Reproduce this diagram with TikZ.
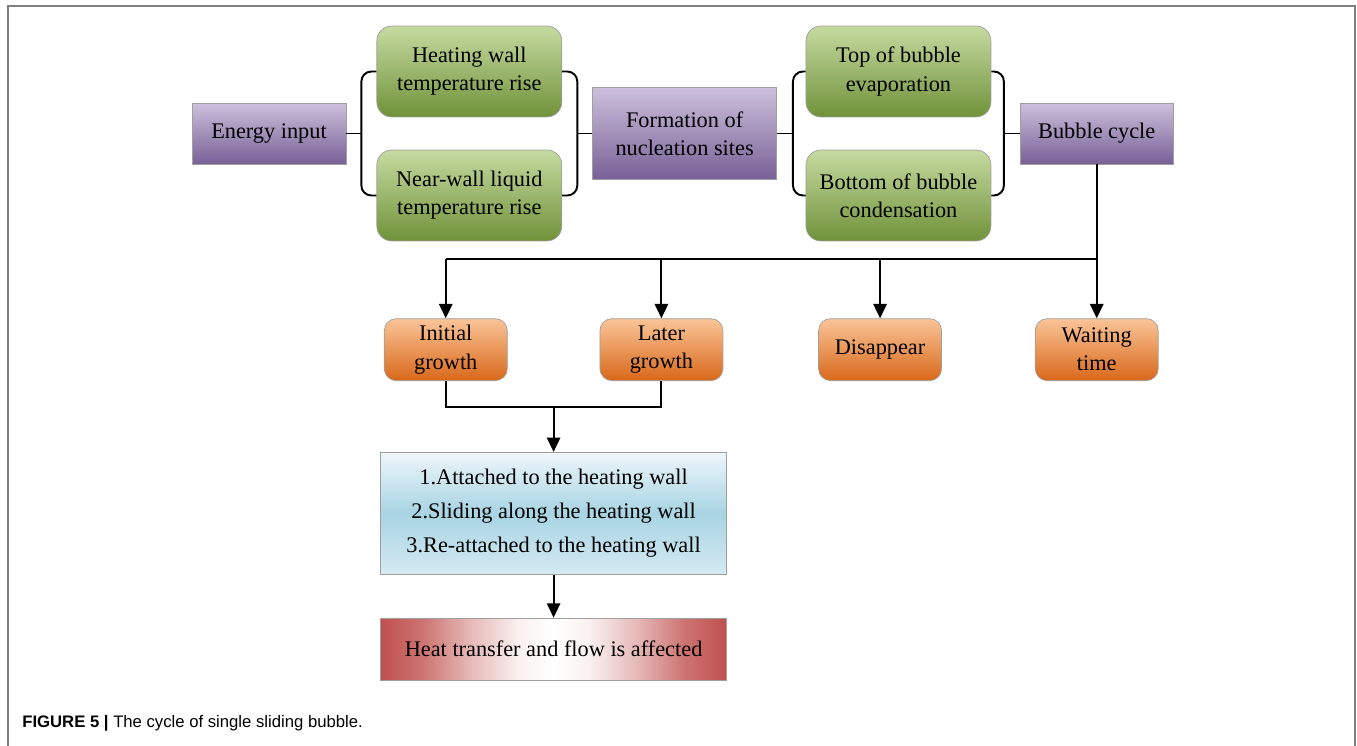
\documentclass[tikz,border=0pt]{standalone}
\usepackage{fontspec}
\setmainfont{Liberation Serif}
\newfontfamily\capfont{Liberation Sans}
\usetikzlibrary{arrows.meta,positioning,calc}

\definecolor{purpletop}{RGB}{205,192,220}
\definecolor{purplebot}{RGB}{120,96,150}
\definecolor{greentop}{RGB}{198,218,160}
\definecolor{greenbot}{RGB}{112,146,58}
\definecolor{orangetop}{RGB}{250,196,152}
\definecolor{orangebot}{RGB}{216,104,26}
\definecolor{bluetop}{RGB}{238,246,250}
\definecolor{bluemid}{RGB}{168,212,227}
\definecolor{bluebot}{RGB}{212,234,242}
\definecolor{rededge}{RGB}{192,80,77}
\pgfdeclarehorizontalshading{redglow}{100bp}{color(0bp)=(rededge); color(25bp)=(rededge); color(31bp)=(rededge!80!white); color(38bp)=(rededge!40!white); color(45bp)=(rededge!8!white); color(50bp)=(white); color(55bp)=(rededge!8!white); color(62bp)=(rededge!40!white); color(69bp)=(rededge!80!white); color(75bp)=(rededge); color(100bp)=(rededge)}

\begin{document}
\begin{tikzpicture}[
    x=0.02cm, y=0.02cm,
    font=\fontsize{12.7}{16}\selectfont,
    base/.style={rectangle, draw=gray!75, thin, align=center, inner sep=2pt},
    pbox/.style={base, top color=purpletop, bottom color=purplebot, minimum height=1.22cm},
    gbox/.style={base, rounded corners=0.3cm, top color=greentop, bottom color=greenbot, minimum width=3.7cm, minimum height=1.82cm},
    obox/.style={base, rounded corners=0.24cm, top color=orangetop, bottom color=orangebot, minimum width=2.46cm, minimum height=1.24cm},
    bbox/.style={base, top color=bluetop, bottom color=bluebot, middle color=bluemid, minimum width=6.92cm, minimum height=2.44cm, font=\fontsize{12.7}{19.3}\selectfont},
    rbox/.style={base, shading=redglow, minimum width=6.92cm, minimum height=1.24cm},
    line/.style={line width=1.1pt},
    arr/.style={line, -{Triangle[width=7.6pt,length=8.2pt]}},
    brace/.style={line, rounded corners=0.2cm},
    frame/.style={draw=gray, line width=1.2pt}
]
    \useasboundingbox (0,0) rectangle (1357,-746);
    \draw [frame] (8,-746) -- (8,-6) -- (1355,-6) -- (1355,-746);

    % top row
    \node [pbox, minimum width=3.08cm] (energy) at (269,-133.5) {Energy input};
    \node [pbox, minimum width=3.68cm, minimum height=1.84cm, right=4.92cm of energy] (formation) {Formation of\\nucleation sites};
    \node [pbox, minimum width=3.06cm, right=4.86cm of formation] (bubble) {Bubble cycle};

    \coordinate (lb1) at ($(energy.east)+(15,0)$);
    \coordinate (rb1) at ($(formation.west)+(-15,0)$);
    \coordinate (lb2) at ($(formation.east)+(16,0)$);
    \coordinate (rb2) at ($(bubble.west)+(-16,0)$);

    \node [gbox] (heat) at ($(lb1)!.5!(rb1)+(0,62)$) {Heating wall\\temperature rise};
    \node [gbox] (near) at ($(lb1)!.5!(rb1)+(0,-62)$) {Near-wall liquid\\temperature rise};
    \node [gbox] (top) at ($(lb2)!.5!(rb2)+(0,62)$) {Top of bubble\\evaporation};
    \node [gbox] (bottom) at ($(lb2)!.5!(rb2)+(0,-62)$) {Bottom of bubble\\condensation};

    % brackets
    \draw [brace] (heat.west) -| (lb1) |- (near.west);
    \draw [brace] (heat.east) -| (rb1) |- (near.east);
    \draw [brace] (top.west) -| (lb2) |- (bottom.west);
    \draw [brace] (top.east) -| (rb2) |- (bottom.east);
    \draw [line] (energy) -- (lb1);
    \draw [line] (rb1) -- (formation);
    \draw [line] (formation) -- (lb2);
    \draw [line] (rb2) -- (bubble);

    % growth stages
    \node [obox, below=3.08cm of bubble] (waiting) {Waiting\\time};
    \node [obox, left=1.86cm of waiting] (disappear) {Disappear};
    \node [obox, left=1.9cm of disappear] (later) {Later\\growth};
    \node [obox, left=1.84cm of later] (initial) {Initial\\growth};

    \coordinate (split) at ($(bubble.south)+(0,-95)$);
    \draw [arr] (bubble) -- (waiting);
    \draw [line] (split) -- (split -| initial.north);
    \foreach \n in {initial, later, disappear}
        \draw [arr] (split -| \n.north) -- (\n.north);

    % sliding stages
    \coordinate (join) at ($(initial.south)!.5!(later.south)+(0,-26)$);
    \node [bbox, below=0.9cm of join] (stages) {1.Attached to the heating wall\\2.Sliding along the heating wall\\3.Re-attached to the heating wall};
    \node [rbox, below=0.86cm of stages] (effect) {Heat transfer and flow is affected};

    \draw [line] (initial.south) |- (join) -| (later.south);
    \draw [arr] (join) -- (stages);
    \draw [arr] (stages) -- (effect);

    \node [anchor=base west, inner sep=0pt, font=\capfont\fontsize{9.5}{11.5}\selectfont] (caption) at (22,-727) {\textbf{FIGURE 5 |} The cycle of single sliding bubble.};
\end{tikzpicture}
\end{document}
